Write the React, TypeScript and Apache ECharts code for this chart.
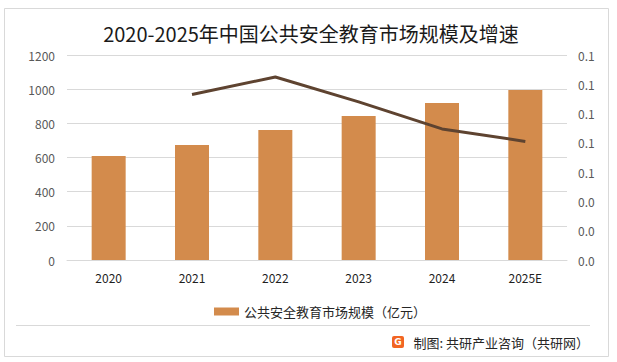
import React, { useEffect, useRef } from "react";
import * as echarts from "echarts";

const years = ["2020", "2021", "2022", "2023", "2024", "2025E"];
const marketSize = [609, 673, 761, 843, 919, 995];
const growthRate = [null, 0.113, 0.125, 0.108, 0.0895, 0.081];
const titleText = "2020-2025年中国公共安全教育市场规模及增速";
const barName = "公共安全教育市场规模（亿元）";
const lineName = "增速";
const sourceText = "制图: 共研产业咨询（共研网）";

const FONT = '"Noto Sans CJK SC", "Noto Sans", sans-serif';

export default function App() {
  const ref = useRef<HTMLDivElement>(null);
  useEffect(() => {
    if (!ref.current) return;
    const chart = echarts.init(ref.current, null, { renderer: "svg" });
    chart.setOption({
      animation: false,
      backgroundColor: "#ffffff",
      textStyle: { fontFamily: FONT },
      title: {
        text: titleText,
        left: 306,
        textAlign: "center",
        top: 18,
        textStyle: { fontSize: 20, fontWeight: "normal", color: "#1a1a1a", fontFamily: FONT },
      },
      grid: { left: 67, right: 50, top: 55, bottom: 102, containLabel: false },
      legend: {
        data: [barName],
        top: 300,
        left: 209,
        itemWidth: 25,
        itemHeight: 8,
        itemGap: 4,
        icon: "rect",
        textStyle: { fontSize: 13, color: "#262626", fontFamily: FONT },
      },
      xAxis: {
        type: "category",
        data: years,
        axisLine: { show: true, lineStyle: { color: "#d9d9d9", width: 1 } },
        axisTick: { show: false },
        axisLabel: { color: "#1f1f1f", fontSize: 12, margin: 11, fontFamily: FONT },
      },
      yAxis: [
        {
          type: "value",
          min: 0,
          max: 1200,
          interval: 200,
          axisLine: { show: false },
          axisTick: { show: false },
          axisLabel: {
            color: "#595959",
            fontSize: 12,
            margin: 12,
            formatter: (v: number) => String(v),
          },
          splitLine: { lineStyle: { color: "#d9d9d9", width: 1 } },
        },
        {
          type: "value",
          min: 0,
          max: 0.14,
          interval: 0.02,
          axisLine: { show: false },
          axisTick: { show: false },
          axisLabel: {
            color: "#595959",
            fontSize: 12,
            margin: 11,
            formatter: (v: number) => v.toFixed(1),
          },
          splitLine: { show: false },
        },
      ],
      series: [
        {
          name: barName,
          type: "bar",
          data: marketSize,
          barWidth: 34,
          itemStyle: { color: "#d38b4c" },
        },
        {
          name: lineName,
          type: "line",
          yAxisIndex: 1,
          data: growthRate,
          symbol: "none",
          lineStyle: { color: "#5e4330", width: 3 },
          itemStyle: { color: "#5e4330" },
        },
      ],
      graphic: [
        {
          type: "rect",
          shape: { x: 4.5, y: 8.5, width: 604, height: 348 },
          style: { fill: "none", stroke: "#d9d9d9", lineWidth: 1 },
          silent: true,
        },
        {
          type: "line",
          shape: { x1: 16, y1: 325.5, x2: 590, y2: 325.5 },
          style: { stroke: "#d9d9d9", lineWidth: 1 },
          silent: true,
        },
        {
          type: "rect",
          shape: { x: 392, y: 336, width: 12, height: 12, r: 2 },
          style: { fill: "#f26522" },
          silent: true,
        },
        {
          type: "text",
          x: 398,
          y: 342,
          style: {
            text: "G",
            fill: "#ffffff",
            font: 'bold 9px "DejaVu Sans", sans-serif',
            align: "center",
            verticalAlign: "middle",
          },
          silent: true,
        },
        {
          type: "text",
          x: 589,
          y: 342,
          style: {
            text: sourceText,
            fill: "#262626",
            font: '13px "Noto Sans CJK SC", sans-serif',
            align: "right",
            verticalAlign: "middle",
          },
          silent: true,
        },
      ],
    });
    return () => chart.dispose();
  }, []);
  return (
    <div
      ref={ref}
      style={{ position: "fixed", left: 0, top: 0, width: 617, height: 362 }}
    />
  );
}
